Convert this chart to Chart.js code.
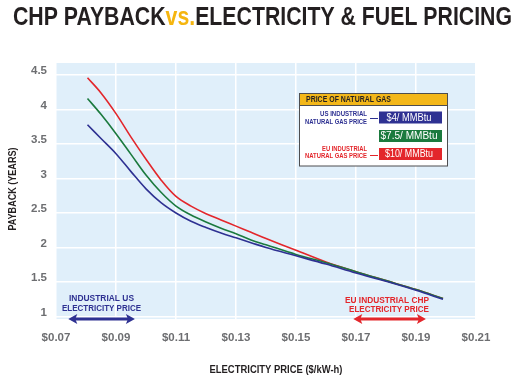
<!DOCTYPE html>
<html>
<head>
<meta charset="utf-8">
<script src="https://cdn.jsdelivr.net/npm/chart.js@4.4.1/dist/chart.umd.min.js"></script>
<style>
html,body{margin:0;padding:0;background:#fff;}
#wrap{position:relative;width:526px;height:387px;}
canvas{display:block;}
</style>
</head>
<body>
<div id="wrap"><canvas id="c" width="526" height="387"></canvas></div>
<script>
// ---- data ----
const electricityPrice = [0.0805, 0.085, 0.09, 0.095, 0.1, 0.105, 0.11, 0.115, 0.12, 0.125, 0.13, 0.135, 0.14, 0.15, 0.16, 0.17, 0.18, 0.19, 0.199];
const paybackGas4   = [3.78, 3.58, 3.36, 3.10, 2.85, 2.65, 2.50, 2.38, 2.29, 2.21, 2.14, 2.07, 2.00, 1.88, 1.76, 1.63, 1.51, 1.38, 1.25];
const paybackGas75  = [4.16, 3.93, 3.65, 3.35, 3.05, 2.80, 2.60, 2.47, 2.37, 2.28, 2.20, 2.11, 2.04, 1.90, 1.78, 1.65, 1.52, 1.39, 1.26];
const paybackGas10  = [4.46, 4.24, 3.94, 3.60, 3.28, 2.98, 2.74, 2.60, 2.49, 2.40, 2.31, 2.22, 2.13, 1.96, 1.79, 1.65, 1.52, 1.39, 1.26];
const seriesLabels  = ['$4/ MMBtu', '$7.5/ MMBtu', '$10/ MMBtu'];
const xTickValues   = [0.07, 0.09, 0.11, 0.13, 0.15, 0.17, 0.19, 0.21];
const yTickValues   = [1, 1.5, 2, 2.5, 3, 3.5, 4, 4.5];
const usElecRange   = [0.0741, 0.0963];
const euElecRange   = [0.1691, 0.1933];

const BLUE = '#2e3192', GREEN = '#1b7a3e', RED = '#e3262b', DARK = '#231f20';
const FAM = "'Liberation Sans Narrow', 'Liberation Sans', Arial, sans-serif";

function pts(ys){ return electricityPrice.map((x,i)=>({x:x,y:ys[i]})); }

// draw text at given font size, horizontally squeezed to a target width
function drawText(ctx, text, x, y, size, weight, color, align, width){
  ctx.save();
  ctx.font = weight + ' ' + size + 'px ' + FAM;
  const w = ctx.measureText(text).width;
  const sx = width ? width / w : 1;
  ctx.fillStyle = color;
  ctx.textAlign = align || 'center';
  ctx.textBaseline = 'middle';
  ctx.translate(x, y);
  ctx.scale(sx, 1);
  ctx.fillText(text, 0, 0);
  ctx.restore();
  return w * sx;
}
function dblArrow(ctx, x1, x2, y, color){
  ctx.save();
  ctx.fillStyle = color; ctx.strokeStyle = color;
  ctx.lineWidth = 3;
  ctx.beginPath(); ctx.moveTo(x1+5, y); ctx.lineTo(x2-5, y); ctx.stroke();
  const hl = 9, hw = 5;
  ctx.beginPath(); ctx.moveTo(x1, y); ctx.lineTo(x1+hl, y-hw); ctx.lineTo(x1+hl-2, y); ctx.lineTo(x1+hl, y+hw); ctx.closePath(); ctx.fill();
  ctx.beginPath(); ctx.moveTo(x2, y); ctx.lineTo(x2-hl, y-hw); ctx.lineTo(x2-hl+2, y); ctx.lineTo(x2-hl, y+hw); ctx.closePath(); ctx.fill();
  ctx.restore();
}

const decor = {
  id: 'decor',
  beforeDraw(chart){
    const {ctx, chartArea: a} = chart;
    ctx.save();
    ctx.fillStyle = '#fff';
    ctx.fillRect(0,0,chart.width,chart.height);
    ctx.fillStyle = '#e0effa';
    ctx.fillRect(a.left, a.top, a.right-a.left, a.bottom-a.top);
    ctx.restore();
  },
  afterDraw(chart){
    const ctx = chart.ctx;
    const xs = chart.scales.x;
    ctx.save();
    // Title (three coloured parts)
    const t1 = 'CHP PAYBACK', t2 = 'vs.', t3 = 'ELECTRICITY & FUEL PRICING';
    const ts = 26.5;
    ctx.font = 'bold ' + ts + 'px ' + FAM;
    const total = ctx.measureText(t1 + t2 + t3).width;
    const k = 499 / total;
    let x = 13;
    const w1 = ctx.measureText(t1).width * k, w2 = ctx.measureText(t2).width * k, w3 = ctx.measureText(t3).width * k;
    drawText(ctx, t1, x, 18, ts, 'bold', DARK, 'left', w1); x += w1;
    drawText(ctx, t2, x, 18, ts, 'bold', '#f5b50f', 'left', w2); x += w2;
    drawText(ctx, t3, x, 18, ts, 'bold', DARK, 'left', w3);

    // Axis titles
    ctx.save(); ctx.translate(13, 189); ctx.rotate(-Math.PI/2);
    drawText(ctx, 'PAYBACK (YEARS)', 0, 0, 10, 'bold', DARK, 'center', 83);
    ctx.restore();
    drawText(ctx, 'ELECTRICITY PRICE ($/kW-h)', 276, 370, 10, 'bold', DARK, 'center', 133);

    // US arrow annotation
    const ux1 = xs.getPixelForValue(usElecRange[0]), ux2 = xs.getPixelForValue(usElecRange[1]);
    drawText(ctx, 'INDUSTRIAL US', 101.5, 298.5, 9.5, 'bold', BLUE, 'center', 65);
    drawText(ctx, 'ELECTRICITY PRICE', 101.5, 308, 9.5, 'bold', BLUE, 'center', 79);
    dblArrow(ctx, ux1, ux2, 319, BLUE);

    // EU arrow annotation
    const ex1 = xs.getPixelForValue(euElecRange[0]), ex2 = xs.getPixelForValue(euElecRange[1]);
    drawText(ctx, 'EU INDUSTRIAL CHP', 387, 300.5, 9.8, 'bold', RED, 'center', 84);
    drawText(ctx, 'ELECTRICITY PRICE', 389, 309.5, 9.8, 'bold', RED, 'center', 80);
    dblArrow(ctx, ex1, ex2, 319, RED);

    // Legend box
    const L = 299.5, T = 93.5, R = 447.5, B = 166;
    ctx.fillStyle = '#fff'; ctx.fillRect(L, T, R-L, B-T);
    ctx.fillStyle = '#f3b719'; ctx.fillRect(L, T, R-L, 12);
    ctx.strokeStyle = '#4d4d4f'; ctx.lineWidth = 1; ctx.strokeRect(L, T, R-L, B-T);
    ctx.beginPath(); ctx.moveTo(L, T+12); ctx.lineTo(R, T+12); ctx.stroke();
    drawText(ctx, 'PRICE OF NATURAL GAS', 306, 100, 9, 'bold', DARK, 'left', 85);

    const colors = [BLUE, GREEN, RED];
    const rowY = [117.5, 136, 154];
    const swW = [45, 57, 48];
    for (let i=0;i<3;i++){
      ctx.fillStyle = colors[i];
      ctx.fillRect(379, rowY[i]-6, 63, 12);
      drawText(ctx, seriesLabels[i], 409, rowY[i]+0.5, 10.5, 'normal', '#fff', 'center', swW[i]);
    }
    drawText(ctx, 'US INDUSTRIAL', 367, 114, 7, 'bold', BLUE, 'right', 47);
    drawText(ctx, 'NATURAL GAS PRICE', 367, 122, 7, 'bold', BLUE, 'right', 62);
    drawText(ctx, 'EU INDUSTRIAL', 367, 149, 7, 'bold', RED, 'right', 45);
    drawText(ctx, 'NATURAL GAS PRICE', 367, 156.5, 7, 'bold', RED, 'right', 62);
    ctx.lineWidth = 1;
    ctx.strokeStyle = BLUE; ctx.beginPath(); ctx.moveTo(370, 118.5); ctx.lineTo(378, 118.5); ctx.stroke();
    ctx.strokeStyle = RED; ctx.beginPath(); ctx.moveTo(370, 155.5); ctx.lineTo(378, 155.5); ctx.stroke();
    ctx.restore();
  }
};

const tickFont = {family: FAM, size: 11.5, weight: 'bold'};

new Chart(document.getElementById('c'), {
  type: 'line',
  data: {
    datasets: [
      {label: seriesLabels[0], data: pts(paybackGas4),  borderColor: BLUE,  borderWidth: 1.6, pointRadius: 0, tension: 0.35, fill: false},
      {label: seriesLabels[1], data: pts(paybackGas75), borderColor: GREEN, borderWidth: 1.6, pointRadius: 0, tension: 0.35, fill: false},
      {label: seriesLabels[2], data: pts(paybackGas10), borderColor: RED,   borderWidth: 1.6, pointRadius: 0, tension: 0.35, fill: false}
    ]
  },
  options: {
    responsive: false,
    animation: false,
    devicePixelRatio: 1,
    layout: {padding: {top: 63, right: 50, left: 0, bottom: 0}},
    plugins: {legend: {display: false}, tooltip: {enabled: false}, title: {display: false}},
    scales: {
      x: {
        type: 'linear', min: 0.07, max: 0.21,
        afterBuildTicks: s => { s.ticks = xTickValues.map(v => ({value: v})); },
        afterFit: s => { s.height = 68; },
        grid: {color: '#ffffff', lineWidth: 1.5, drawTicks: false},
        border: {display: false},
        ticks: {font: tickFont, color: '#6d6e71', padding: 12, maxRotation: 0, autoSkip: false,
                callback: v => '$' + Number(v).toFixed(2)}
      },
      y: {
        type: 'linear', min: 0.964, max: 4.674,
        afterBuildTicks: s => { s.ticks = yTickValues.map(v => ({value: v})); },
        afterFit: s => { s.width = 56; },
        grid: {color: '#ffffff', lineWidth: 1.5, drawTicks: false},
        border: {display: false},
        ticks: {font: tickFont, color: '#6d6e71', padding: 9, labelOffset: -4, autoSkip: false,
                callback: v => String(v)}
      }
    }
  },
  plugins: [decor]
});
</script>
</body>
</html>
